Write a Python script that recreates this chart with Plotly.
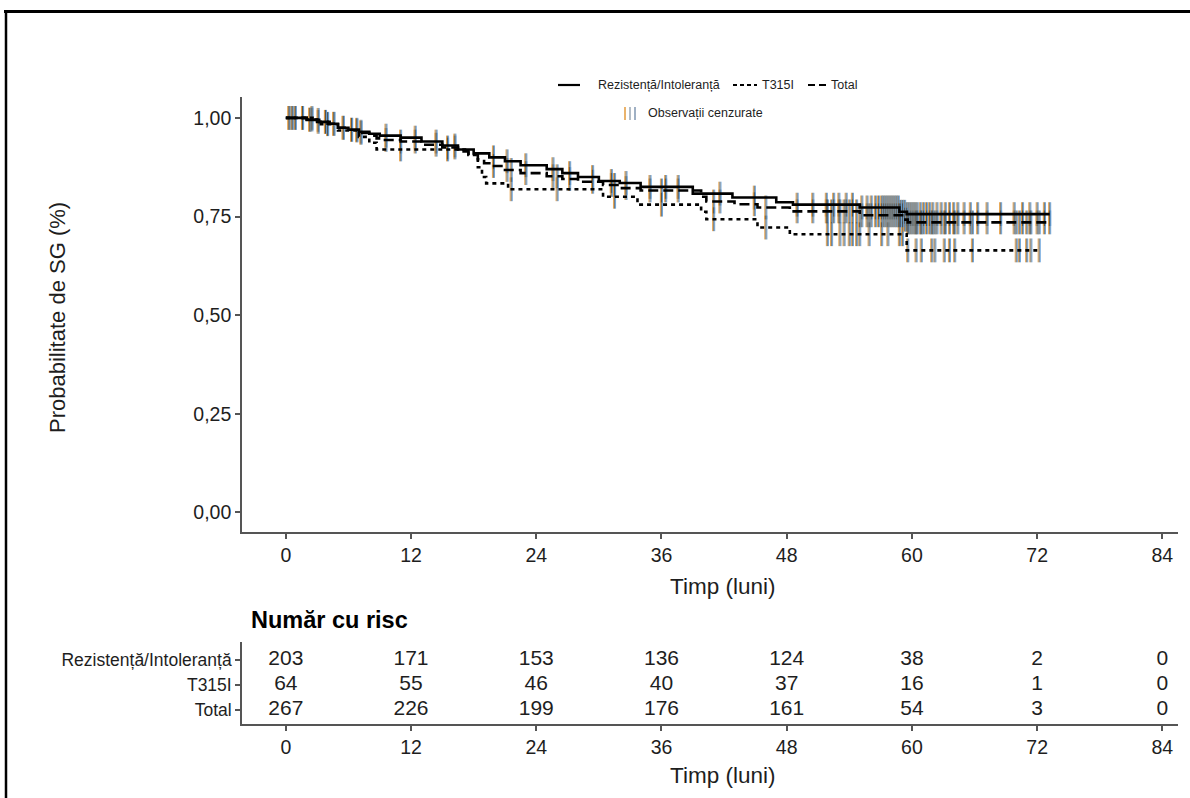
import numpy as np
import plotly.graph_objects as go

# ---------------- data ----------------
ri_time = [0, 2.0, 3.2, 4.2, 5.0, 6.0, 7.0, 8.0, 9.0, 11.0, 13.0, 15.0, 16.5, 18.0, 19.5, 21.0, 22.5,
           25.0, 26.5, 28.0, 30.0, 32.0, 34.0, 39.0, 42.8, 47.0, 48.6, 55.0, 58.8, 59.5, 73.2]
ri_surv = [1.0, 0.995, 0.99, 0.985, 0.975, 0.97, 0.965, 0.96, 0.955, 0.95, 0.94, 0.93, 0.92, 0.91, 0.90, 0.89, 0.88,
           0.87, 0.86, 0.85, 0.84, 0.835, 0.825, 0.808, 0.798, 0.786, 0.78, 0.773, 0.762, 0.756, 0.756]

t315_time = [0, 3.0, 5.0, 7.0, 8.0, 8.7, 17.5, 18.4, 18.8, 19.2, 21.3, 30.4, 33.7, 39.8, 40.3, 45.2, 48.3, 59.5, 72.2]
t315_surv = [1.0, 0.984, 0.968, 0.952, 0.937, 0.92, 0.906, 0.875, 0.85, 0.834, 0.819, 0.80, 0.78, 0.762, 0.743,
             0.722, 0.705, 0.664, 0.664]

tot_time = [0, 2.0, 3.0, 4.0, 5.0, 6.0, 7.0, 8.0, 8.7, 9.5, 11.0, 13.0, 15.0, 16.5, 17.5, 18.4, 19.0, 19.5, 21.0,
            22.5, 25.0, 26.5, 28.0, 30.4, 32.0, 34.0, 39.8, 40.3, 43.0, 45.2, 48.3, 55.0, 59.2, 59.6, 73.2]
tot_surv = [1.0, 0.996, 0.99, 0.985, 0.975, 0.97, 0.962, 0.955, 0.948, 0.944, 0.94, 0.932, 0.925, 0.915, 0.908,
            0.895, 0.885, 0.878, 0.868, 0.86, 0.852, 0.845, 0.838, 0.83, 0.822, 0.816, 0.80, 0.788, 0.781, 0.773,
            0.763, 0.753, 0.742, 0.735, 0.735]

ri_cens = [0.3, 0.9, 1.6, 2.3, 3.1, 3.8, 4.6, 5.5, 6.3, 7.2, 9.6, 12.4, 14.4, 16.2, 19.9, 21.2, 23.0, 25.6, 27.2,
           29.4, 31.2, 32.6, 34.9, 36.4, 37.6, 41.6, 44.9, 49.0, 50.5, 51.8, 52.5, 53.0, 53.7, 54.3, 55.2, 55.7,
           56.1, 56.5, 56.8, 57.1, 57.3, 57.5, 57.7, 57.9, 58.1, 58.3, 58.5, 58.7, 58.9, 59.1, 59.3, 59.5, 59.7,
           59.9, 60.1, 60.3, 60.5, 60.8, 61.1, 61.4, 61.7, 62.0, 62.4, 62.8, 63.2, 63.6, 64.0, 64.4, 65.0, 65.6,
           66.3, 67.2, 68.5, 69.8, 70.6, 71.3, 72.0, 72.7, 73.2]
t315_cens = [0.6, 2.5, 4.0, 6.8, 11.0, 15.5, 21.6, 26.0, 31.5, 36.0, 41.0, 46.0, 51.9, 52.3, 53.1, 53.5, 54.0,
             54.3, 54.7, 55.0, 55.9, 57.1, 57.7, 58.8, 59.1, 59.6, 60.4, 60.9, 61.9, 62.2, 63.1, 63.6, 64.1,
             65.8, 70.0, 70.3, 71.0, 71.4, 72.2]

groups = ["Rezistență/Intoleranță", "T315I", "Total"]
risk_times = [0, 12, 24, 36, 48, 60, 72, 84]
ri_risk = [203, 171, 153, 136, 124, 38, 2, 0]
t315_risk = [64, 55, 46, 40, 37, 16, 1, 0]
tot_risk = [267, 226, 199, 176, 161, 54, 3, 0]

x_ticks = [0, 12, 24, 36, 48, 60, 72, 84]
y_ticks = [0, 0.25, 0.5, 0.75, 1.0]
y_ticklabels = ["0,00", "0,25", "0,50", "0,75", "1,00"]

# ---------------- helpers ----------------
W, H = 1190, 798
def px(x): return x / W
def py(y): return 1 - y / H

FONT = "Liberation Sans, Arial, sans-serif"
TXT = "#1e1e1e"
AX = "#555555"
ORANGE, GREYBLUE, BLUE = "#E39A3B", "#9aa7b5", "#5A9BD8"

def step_at(times, surv, t):
    times = np.asarray(times); surv = np.asarray(surv)
    idx = np.searchsorted(times, t, side="right") - 1
    return surv[np.clip(idx, 0, len(surv) - 1)]

fig = go.Figure()

series = [
    (ri_time, ri_surv, ri_cens, "solid"),
    (t315_time, t315_surv, t315_cens, "4px,4px"),
    (tot_time, tot_surv, sorted(set(ri_cens + t315_cens)), "10px,5px"),
]

# censor marks (coloured fringe look)
for times, surv, cens, dash in series:
    c = np.asarray(cens)
    yv = step_at(times, surv, c)
    for off, col, w in [(-0.1, ORANGE, 0.9), (0.1, BLUE, 0.9), (0.0, "#3f3f3f", 0.7)]:
        fig.add_trace(go.Scatter(
            x=c + off, y=yv, mode="markers", showlegend=False, hoverinfo="skip",
            marker=dict(symbol="line-ns-open", size=17, color=col, line=dict(color=col, width=w)),
            xaxis="x", yaxis="y"))

# KM curves
for times, surv, cens, dash in series:
    fig.add_trace(go.Scatter(
        x=times, y=surv, mode="lines", line=dict(color="black", width=2.6, dash=dash, shape="hv"),
        showlegend=False, hoverinfo="skip", xaxis="x", yaxis="y"))

# risk table
for vals, row in [(ri_risk, 3), (t315_risk, 2), (tot_risk, 1)]:
    fig.add_trace(go.Scatter(
        x=risk_times, y=[row] * len(risk_times), mode="text", text=[str(v) for v in vals],
        textfont=dict(family=FONT, size=21, color=TXT), textposition="middle center",
        showlegend=False, hoverinfo="skip", xaxis="x2", yaxis="y2"))

xdom = [px(242), px(1178)]
axis_common = dict(showline=True, linecolor=AX, linewidth=1.6, ticks="outside", ticklen=5,
                   tickcolor=AX, tickwidth=1.5, showgrid=False, zeroline=False,
                   tickfont=dict(family=FONT, size=19.5, color=TXT))

fig.update_layout(
    width=W, height=H, margin=dict(l=0, r=0, t=0, b=0),
    paper_bgcolor="white", plot_bgcolor="white", showlegend=False,
    xaxis=dict(domain=xdom, range=[-4.2, 85.5], tickvals=x_ticks, anchor="y", **axis_common),
    yaxis=dict(domain=[py(532), py(97)], range=[-0.05, 1.053], tickvals=y_ticks,
               ticktext=y_ticklabels, anchor="x", **axis_common),
    xaxis2=dict(domain=xdom, range=[-4.2, 85.5], tickvals=x_ticks, anchor="y2", **axis_common),
    yaxis2=dict(domain=[py(724), py(642)], range=[0.44, 3.72], tickvals=[3, 2, 1],
                ticktext=groups, anchor="x2",
                **{**axis_common, "tickfont": dict(family=FONT, size=17.5, color=TXT)}),
)

def note(text, x, y, size, xanchor="center", angle=0, color=TXT):
    return dict(text=text, x=px(x), y=py(y), xref="paper", yref="paper", xanchor=xanchor,
                yanchor="middle", showarrow=False, textangle=angle,
                font=dict(family=FONT, size=size, color=color))

ann = [
    note("Probabilitate de SG (%)", 57, 318, 22, angle=-90),
    note("Timp (luni)", 722, 586, 22.5),
    note("Timp (luni)", 722, 775, 22.5),
    note("<b>Număr cu risc</b>", 249, 620, 23.5, xanchor="left", color="black"),
]
for txt, x in [("Rezistență/Intoleranță", 596), ("T315I", 760), ("Total", 829)]:
    ann.append(note(txt, x, 85, 12.5, xanchor="left"))
ann.append(note("Observații cenzurate", 646, 113, 12.5, xanchor="left"))
fig.update_layout(annotations=ann)

shapes = []
for x0, x1, dash in [(558, 580, "solid"), (733, 757, "4px,3px"), (808, 826, "7px,4px")]:
    shapes.append(dict(type="line", xref="paper", yref="paper", x0=px(x0), x1=px(x1), y0=py(85), y1=py(85),
                       line=dict(color="black", width=2.2, dash=dash)))
for x, col in [(625, ORANGE), (630, GREYBLUE), (635, "#7f96b0")]:
    shapes.append(dict(type="line", xref="paper", yref="paper", x0=px(x), x1=px(x), y0=py(107), y1=py(120),
                       line=dict(color=col, width=1.5)))
# frame
shapes.append(dict(type="line", xref="paper", yref="paper", x0=px(4), x1=1.0, y0=py(11.5), y1=py(11.5),
                   line=dict(color="black", width=3)))
shapes.append(dict(type="line", xref="paper", yref="paper", x0=px(6), x1=px(6), y0=py(10), y1=0,
                   line=dict(color="black", width=2.5)))
fig.update_layout(shapes=shapes)

fig.write_html("out.html", config={"displayModeBar": False},
               post_script="document.body.style.margin='0';document.body.style.overflow='hidden';")
